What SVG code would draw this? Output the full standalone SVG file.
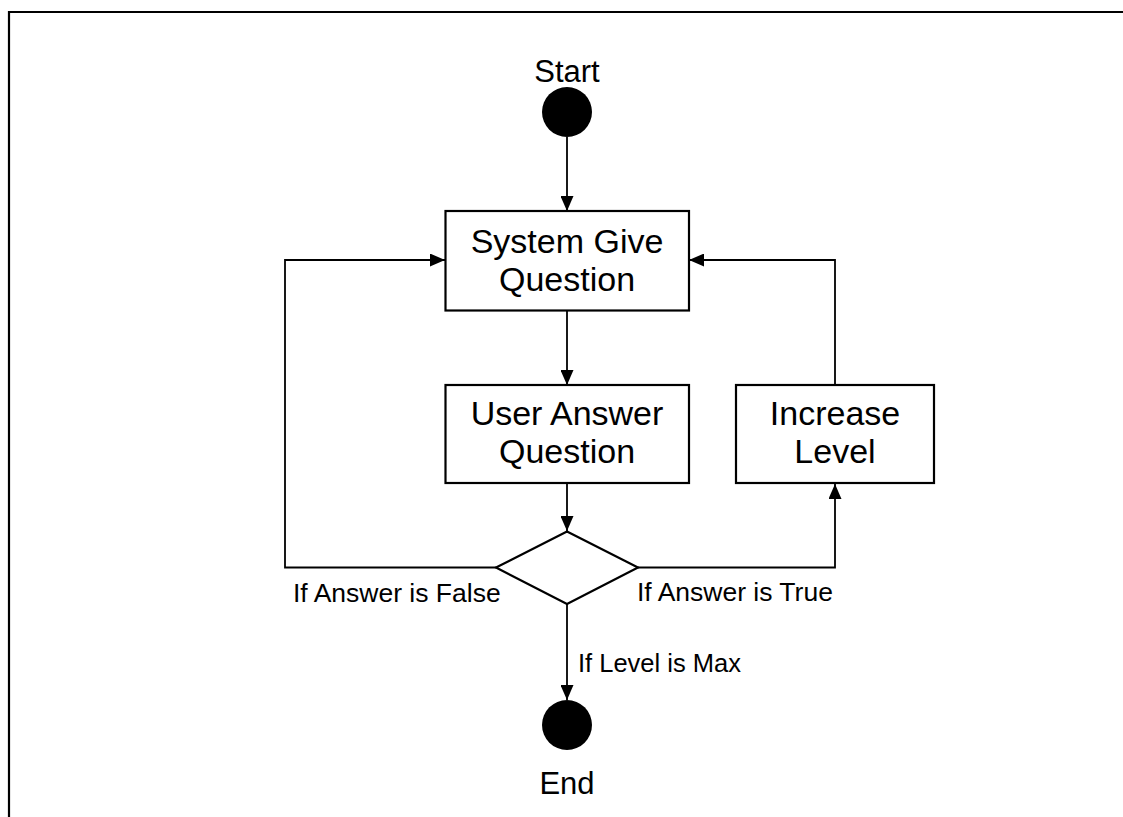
<svg xmlns="http://www.w3.org/2000/svg" width="1123" height="817" viewBox="0 0 1123 817">
<defs>
<marker id="arr" viewBox="0 0 15 13" refX="15" refY="6.5" markerWidth="15" markerHeight="13" markerUnits="userSpaceOnUse" orient="auto">
<path d="M0,0 L15,6.5 L0,13 Z" fill="#000"/>
</marker>
<style>
.box{fill:#fff;stroke:#000;stroke-width:2.2}
.ln{fill:none;stroke:#000;stroke-width:1.8}
.t{font-family:"Liberation Sans",Arial,sans-serif;fill:#000}
.bt{font-size:34px;text-anchor:middle}
.lb{font-size:26.5px}
.term{font-size:31px;text-anchor:middle}
</style>
</defs>
<rect width="1123" height="817" fill="#fff"/>
<path d="M9,817 L9,12 L1123,12" fill="none" stroke="#000" stroke-width="2.2"/>
<g id="connectors">
<path class="ln" d="M567,137 L567,211" marker-end="url(#arr)"/>
<path class="ln" d="M567,310 L567,385" marker-end="url(#arr)"/>
<path class="ln" d="M567,483 L567,531" marker-end="url(#arr)"/>
<path class="ln" d="M496,567.5 L285,567.5 L285,260 L445,260" marker-end="url(#arr)"/>
<path class="ln" d="M638,567.5 L835,567.5 L835,484" marker-end="url(#arr)"/>
<path class="ln" d="M835,385 L835,260 L689,260" marker-end="url(#arr)"/>
<path class="ln" d="M567,604 L567,700" marker-end="url(#arr)"/>
</g>
<g id="start">
<text class="t term" x="567" y="82">Start</text>
<circle cx="567" cy="112" r="25" fill="#000"/>
</g>
<g id="system-give-question">
<rect class="box" x="445.5" y="211" width="243.5" height="99.5"/>
<text class="t bt" x="567" y="252.5">System Give</text>
<text class="t bt" x="567" y="290.5">Question</text>
</g>
<g id="user-answer-question">
<rect class="box" x="445.5" y="385" width="243.5" height="98"/>
<text class="t bt" x="567" y="425">User Answer</text>
<text class="t bt" x="567" y="463">Question</text>
</g>
<g id="increase-level">
<rect class="box" x="736" y="385" width="198" height="98"/>
<text class="t bt" x="835" y="425">Increase</text>
<text class="t bt" x="835" y="463">Level</text>
</g>
<g id="decision">
<path class="box" d="M567,531.5 L638,567.5 L567,604 L496,567.5 Z"/>
<text class="t lb" x="293" y="601.5">If Answer is False</text>
<text class="t lb" x="637" y="600.5">If Answer is True</text>
<text class="t lb" x="578" y="672" style="font-size:25.5px">If Level is Max</text>
</g>
<g id="end">
<circle cx="567" cy="725" r="25" fill="#000"/>
<text class="t term" x="567" y="794">End</text>
</g>
</svg>
